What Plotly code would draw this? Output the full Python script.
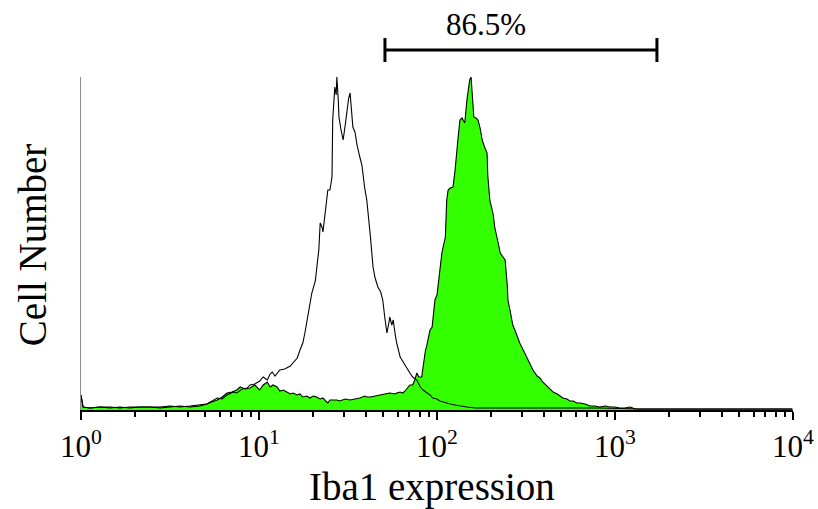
import numpy as np
import plotly.graph_objects as go

# Flow cytometry histogram data: log-amplifier channel (0-1023 over 4 decades) and cell counts
ctrl_channel = [0, 3, 13, 27, 42, 56, 70, 85, 99, 114, 128, 142, 157, 171, 181, 188, 196, 203, 210, 219,
                224, 232, 239, 243, 250, 257, 262, 268, 272, 275, 279, 286, 293, 301, 305, 311, 315, 319,
                322, 326, 332, 337, 339, 342, 344, 347, 348, 352, 355, 358, 361, 362, 365, 367, 368, 370,
                371, 374, 377, 380, 383, 385, 387, 390, 391, 394, 397, 401, 404, 408, 411, 416, 420, 423,
                427, 431, 434, 437, 440, 443, 444, 447, 449, 452, 454, 459, 463, 469, 473, 477, 483, 488,
                492, 498, 502, 506, 512, 516, 524, 531, 538, 545, 555, 567, 588, 627, 689, 746, 804, 890, 1023]
ctrl_count = [15, 3, 2, 3, 2, 3, 2, 3, 3, 2, 3, 4, 3, 4, 6, 9, 12, 11, 15, 18,
              17, 21, 22, 25, 26, 29, 33, 30, 36, 38, 34, 40, 41, 44, 47, 52, 60, 67,
              77, 92, 117, 129, 143, 160, 187, 182, 178, 200, 220, 220, 233, 290, 323, 315, 333, 310,
              293, 280, 270, 285, 303, 312, 317, 295, 283, 278, 265, 253, 245, 222, 210, 175, 143, 132,
              123, 118, 110, 92, 77, 88, 93, 85, 90, 75, 67, 53, 48, 42, 37, 33, 30, 23,
              20, 17, 15, 12, 11, 9, 7, 6, 5, 4, 3, 2, 2, 2, 2, 2, 1, 1, 1]

iba1_channel = [0, 3, 13, 27, 42, 56, 70, 85, 99, 114, 128, 142, 157, 171, 181, 188, 196, 203, 210, 217,
                224, 229, 236, 243, 250, 257, 262, 268, 272, 276, 282, 286, 291, 296, 301, 305, 311, 315,
                319, 325, 329, 334, 339, 344, 348, 352, 355, 358, 362, 368, 372, 380, 387, 394, 401, 408,
                411, 416, 423, 430, 434, 440, 444, 452, 454, 459, 463, 466, 469, 473, 477, 480, 483, 486,
                490, 495, 498, 502, 505, 509, 512, 516, 519, 524, 526, 528, 531, 535, 538, 542, 545, 548,
                552, 555, 557, 559, 561, 562, 565, 568, 571, 574, 577, 581, 584, 585, 588, 593, 595, 600,
                603, 607, 610, 613, 614, 617, 621, 624, 628, 631, 636, 641, 646, 650, 656, 660, 664, 670,
                675, 679, 685, 689, 693, 699, 703, 708, 713, 718, 725, 732, 739, 746, 754, 761, 768, 775,
                782, 790, 797, 804, 890, 1023]
iba1_count = [15, 3, 2, 3, 3, 2, 3, 3, 3, 3, 4, 3, 4, 5, 6, 8, 10, 13, 17, 18,
              20, 23, 21, 22, 25, 20, 25, 28, 23, 25, 23, 19, 20, 18, 16, 17, 15, 16,
              13, 14, 12, 14, 13, 11, 12, 9, 7, 10, 10, 10, 9, 11, 10, 11, 12, 14,
              13, 13, 14, 15, 15, 16, 17, 16, 17, 18, 17, 19, 22, 25, 25, 30, 37, 33,
              33, 58, 67, 80, 83, 110, 115, 140, 157, 173, 210, 220, 222, 223, 240, 270, 290, 292,
              287, 310, 323, 330, 333, 320, 293, 292, 290, 282, 270, 262, 257, 235, 210, 195, 183, 167,
              157, 153, 150, 125, 110, 100, 85, 80, 72, 67, 60, 53, 46, 40, 34, 32, 28, 24,
              21, 18, 16, 14, 12, 11, 9, 9, 7, 7, 6, 4, 4, 3, 4, 3, 3, 2,
              2, 3, 1, 1, 1, 1]

gate_range = [51, 1720]
gate_label = "86.5%"
tick_values = [1, 10, 100, 1000, 10000]
tick_labels = ["10<sup>0</sup>", "10<sup>1</sup>", "10<sup>2</sup>", "10<sup>3</sup>", "10<sup>4</sup>"]

ctrl_x = 10 ** (np.array(ctrl_channel) / 256.0)
iba1_x = 10 ** (np.array(iba1_channel) / 256.0)

FONT = "Liberation Serif"
GREEN = "#33FF00"

fig = go.Figure()
fig.add_trace(go.Scatter(x=iba1_x, y=iba1_count, mode="lines", fill="tozeroy",
                         fillcolor=GREEN, line=dict(color="black", width=1.1),
                         showlegend=False, hoverinfo="skip"))
fig.add_trace(go.Scatter(x=ctrl_x, y=ctrl_count, mode="lines",
                         line=dict(color="black", width=1.1),
                         showlegend=False, hoverinfo="skip"))

minor_vals = [m * 10 ** d for d in range(4) for m in range(2, 10)]

fig.update_xaxes(type="log", range=[0, 4], showgrid=False, zeroline=False, automargin=False,
                 showline=True, linecolor="black", linewidth=2,
                 tickmode="array", tickvals=tick_values, ticktext=tick_labels,
                 ticks="outside", ticklen=8, tickwidth=1.5, tickcolor="black",
                 tickfont=dict(family=FONT, size=31, color="black"),
                 minor=dict(ticks="outside", ticklen=5, tickwidth=1.5, tickcolor="black",
                            tickmode="array", tickvals=minor_vals, showgrid=False))
fig.update_yaxes(range=[0, 333], showgrid=False, zeroline=False, automargin=False,
                 showline=True, linecolor="#8c8c8c", linewidth=1,
                 showticklabels=False, ticks="")

# gate bar (shape x in data units on the log axis)
bar_y, cap_lo, cap_hi = 1.081, 1.045, 1.117
fig.add_shape(type="line", xref="x", yref="paper", x0=gate_range[0], x1=gate_range[1],
              y0=bar_y, y1=bar_y, line=dict(color="black", width=3))
for gx in gate_range:
    fig.add_shape(type="line", xref="x", yref="paper", x0=gx, x1=gx, y0=cap_lo, y1=cap_hi,
                  line=dict(color="black", width=3))

fig.add_annotation(text=gate_label, xref="paper", yref="paper", x=0.569, y=1.159,
                   showarrow=False, xanchor="center", yanchor="middle",
                   font=dict(family=FONT, size=31, color="black"))
fig.add_annotation(text="Iba1 expression", xref="paper", yref="paper", x=0.493, y=-0.231,
                   showarrow=False, xanchor="center", yanchor="middle",
                   font=dict(family=FONT, size=39, color="black"))
fig.add_annotation(text="Cell Number", xref="paper", yref="paper", x=-0.0688, y=0.495,
                   showarrow=False, xanchor="center", yanchor="middle", textangle=-90,
                   font=dict(family=FONT, size=39, color="black"))

fig.update_layout(width=818, height=509, margin=dict(l=81, r=25, t=77, b=99, autoexpand=False),
                  paper_bgcolor="white", plot_bgcolor="white")

fig.write_html("out.html", config={"displayModeBar": False},
               post_script="document.body.style.margin='0';document.body.style.overflow='hidden';")
